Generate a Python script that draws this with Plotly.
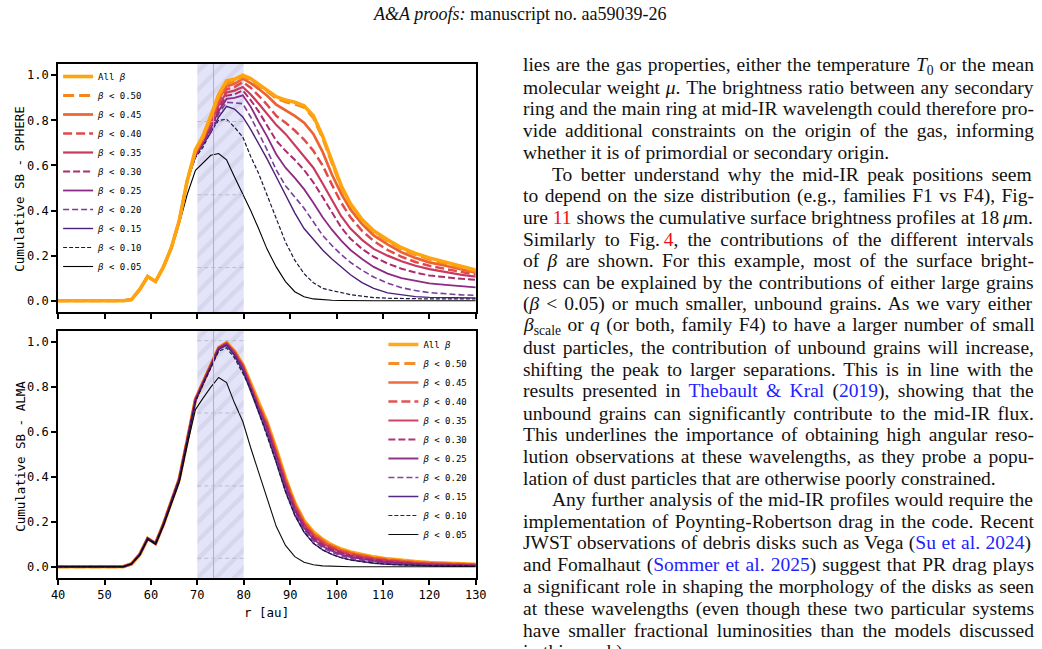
import plotly.graph_objects as go

FIG_W, FIG_H = 1042, 649

# ---------------- data ----------------
r_au = [40, 45, 50, 54.0, 55.8, 57.6, 59.3, 61.0, 62.7, 64.4, 66.1, 67.8,
        69.6, 71.2, 72.9, 74.6, 76.3, 78.0, 79.8, 81.5, 83.2,
        85.0, 87.0, 89.0, 91.0, 93.0, 95.0, 97.0, 99.0, 101.0, 103.0,
        105.5, 108.0, 111.0, 114.0, 117.0, 120.0, 123.5, 127.0, 130.0]

beta_labels = ["All <i>β</i>", "<i>β</i> &lt; 0.50", "<i>β</i> &lt; 0.45", "<i>β</i> &lt; 0.40",
               "<i>β</i> &lt; 0.35", "<i>β</i> &lt; 0.30", "<i>β</i> &lt; 0.25", "<i>β</i> &lt; 0.20",
               "<i>β</i> &lt; 0.15", "<i>β</i> &lt; 0.10", "<i>β</i> &lt; 0.05"]

# SPHERE (top panel)
sphere_all = [0, 0, 0, 0, 0.005, 0.05, 0.107, 0.085, 0.15, 0.235, 0.355, 0.53,
              0.67, 0.73, 0.82, 0.915, 0.975, 0.982, 1.0, 0.985, 0.96,
              0.935, 0.905, 0.89, 0.88, 0.865, 0.82, 0.73, 0.62, 0.51, 0.43,
              0.36, 0.31, 0.27, 0.235, 0.21, 0.19, 0.17, 0.15, 0.136]
sphere_050 = [0, 0, 0, 0, 0.005, 0.05, 0.107, 0.085, 0.15, 0.235, 0.355, 0.53,
              0.665, 0.725, 0.815, 0.905, 0.965, 0.975, 0.993, 0.978, 0.955,
              0.93, 0.898, 0.882, 0.872, 0.858, 0.812, 0.722, 0.612, 0.503, 0.424,
              0.355, 0.305, 0.265, 0.23, 0.205, 0.185, 0.164, 0.145, 0.130]
sphere_045 = [0, 0, 0, 0, 0.005, 0.05, 0.107, 0.085, 0.15, 0.235, 0.355, 0.53,
              0.66, 0.72, 0.805, 0.895, 0.952, 0.962, 0.985, 0.965, 0.94,
              0.91, 0.87, 0.845, 0.82, 0.79, 0.74, 0.66, 0.56, 0.475, 0.405,
              0.34, 0.29, 0.25, 0.215, 0.19, 0.17, 0.155, 0.138, 0.124]
sphere_040 = [0, 0, 0, 0, 0.005, 0.05, 0.107, 0.085, 0.15, 0.235, 0.355, 0.53,
              0.655, 0.715, 0.795, 0.88, 0.938, 0.948, 0.97, 0.945, 0.91,
              0.87, 0.82, 0.79, 0.755, 0.715, 0.665, 0.6, 0.515, 0.435, 0.37,
              0.31, 0.265, 0.225, 0.195, 0.172, 0.155, 0.14, 0.127, 0.116]
sphere_035 = [0, 0, 0, 0, 0.005, 0.05, 0.107, 0.085, 0.15, 0.235, 0.355, 0.53,
              0.65, 0.71, 0.785, 0.868, 0.924, 0.932, 0.948, 0.915, 0.875,
              0.83, 0.78, 0.74, 0.69, 0.645, 0.59, 0.52, 0.445, 0.375, 0.32,
              0.27, 0.23, 0.2, 0.175, 0.155, 0.14, 0.127, 0.115, 0.107]
sphere_030 = [0, 0, 0, 0, 0.005, 0.05, 0.107, 0.085, 0.15, 0.235, 0.355, 0.53,
              0.648, 0.705, 0.775, 0.855, 0.91, 0.915, 0.933, 0.89, 0.84,
              0.78, 0.71, 0.665, 0.625, 0.58, 0.525, 0.46, 0.39, 0.325, 0.275,
              0.23, 0.195, 0.165, 0.142, 0.125, 0.112, 0.103, 0.097, 0.093]
sphere_025 = [0, 0, 0, 0, 0.005, 0.05, 0.107, 0.085, 0.15, 0.235, 0.355, 0.53,
              0.645, 0.70, 0.765, 0.842, 0.895, 0.9, 0.911, 0.86, 0.795,
              0.73, 0.65, 0.59, 0.545, 0.495, 0.435, 0.37, 0.315, 0.267, 0.225,
              0.185, 0.15, 0.12, 0.1, 0.087, 0.077, 0.07, 0.064, 0.059]
sphere_020 = [0, 0, 0, 0, 0.005, 0.05, 0.107, 0.085, 0.15, 0.235, 0.355, 0.53,
              0.642, 0.695, 0.755, 0.83, 0.88, 0.878, 0.874, 0.815, 0.745,
              0.67, 0.58, 0.51, 0.46, 0.41, 0.35, 0.29, 0.245, 0.205, 0.17,
              0.135, 0.105, 0.078, 0.058, 0.045, 0.036, 0.03, 0.026, 0.024]
sphere_015 = [0, 0, 0, 0, 0.005, 0.05, 0.107, 0.085, 0.15, 0.235, 0.355, 0.53,
              0.64, 0.69, 0.745, 0.815, 0.862, 0.85, 0.815, 0.76, 0.70,
              0.63, 0.55, 0.47, 0.39, 0.32, 0.27, 0.225, 0.185, 0.148, 0.115,
              0.08, 0.055, 0.035, 0.025, 0.018, 0.015, 0.013, 0.012, 0.012]
sphere_010 = [0, 0, 0, 0, 0.005, 0.05, 0.107, 0.085, 0.15, 0.235, 0.355, 0.53,
              0.635, 0.68, 0.75, 0.80, 0.805, 0.77, 0.726, 0.64, 0.565,
              0.47, 0.36, 0.26, 0.18, 0.12, 0.08, 0.055, 0.045, 0.035, 0.027,
              0.02, 0.014, 0.011, 0.009, 0.008, 0.008, 0.008, 0.008, 0.008]
sphere_005 = [0, 0, 0, 0, 0.005, 0.05, 0.105, 0.083, 0.145, 0.225, 0.34, 0.47,
              0.578, 0.61, 0.645, 0.653, 0.625, 0.55, 0.474, 0.40, 0.32,
              0.23, 0.15, 0.085, 0.04, 0.018, 0.008, 0.004, 0.002, 0.001, 0,
              0, 0, 0, 0, 0, 0, 0, 0, 0]

# ALMA (bottom panel)
alma_all = [0, 0, 0, 0, 0.013, 0.055, 0.126, 0.104, 0.19, 0.29, 0.39, 0.56,
            0.745, 0.82, 0.9, 0.975, 0.998, 0.96, 0.9, 0.815, 0.725,
            0.645, 0.525, 0.395, 0.285, 0.205, 0.155, 0.122, 0.097, 0.079, 0.066,
            0.054, 0.044, 0.035, 0.028, 0.023, 0.019, 0.016, 0.013, 0.011]
alma_050 = [0, 0, 0, 0, 0.013, 0.055, 0.126, 0.104, 0.19, 0.29, 0.39, 0.56,
            0.745, 0.82, 0.9, 0.975, 0.997, 0.958, 0.898, 0.812, 0.722,
            0.641, 0.52, 0.39, 0.28, 0.2, 0.15, 0.118, 0.094, 0.076, 0.063,
            0.051, 0.041, 0.033, 0.026, 0.021, 0.017, 0.014, 0.012, 0.01]
alma_045 = [0, 0, 0, 0, 0.013, 0.055, 0.126, 0.104, 0.19, 0.29, 0.39, 0.56,
            0.745, 0.82, 0.9, 0.975, 0.996, 0.957, 0.896, 0.81, 0.719,
            0.637, 0.516, 0.385, 0.276, 0.196, 0.146, 0.114, 0.09, 0.073, 0.06,
            0.049, 0.039, 0.031, 0.024, 0.019, 0.016, 0.013, 0.011, 0.009]
alma_040 = [0, 0, 0, 0, 0.013, 0.055, 0.126, 0.104, 0.19, 0.29, 0.39, 0.56,
            0.744, 0.819, 0.899, 0.974, 0.995, 0.955, 0.894, 0.807, 0.715,
            0.632, 0.51, 0.38, 0.271, 0.191, 0.141, 0.109, 0.086, 0.069, 0.056,
            0.046, 0.036, 0.028, 0.022, 0.017, 0.014, 0.012, 0.01, 0.008]
alma_035 = [0, 0, 0, 0, 0.013, 0.055, 0.126, 0.104, 0.19, 0.29, 0.39, 0.56,
            0.744, 0.819, 0.899, 0.974, 0.994, 0.953, 0.891, 0.803, 0.71,
            0.626, 0.503, 0.373, 0.265, 0.186, 0.136, 0.104, 0.082, 0.065, 0.052,
            0.042, 0.033, 0.026, 0.02, 0.015, 0.012, 0.01, 0.008, 0.007]
alma_030 = [0, 0, 0, 0, 0.013, 0.055, 0.126, 0.104, 0.19, 0.29, 0.39, 0.56,
            0.743, 0.818, 0.898, 0.973, 0.993, 0.951, 0.888, 0.799, 0.705,
            0.62, 0.496, 0.366, 0.259, 0.18, 0.13, 0.098, 0.077, 0.061, 0.048,
            0.038, 0.03, 0.023, 0.017, 0.013, 0.01, 0.008, 0.007, 0.006]
alma_025 = [0, 0, 0, 0, 0.013, 0.055, 0.126, 0.104, 0.19, 0.29, 0.39, 0.56,
            0.742, 0.817, 0.897, 0.972, 0.991, 0.948, 0.884, 0.794, 0.699,
            0.612, 0.488, 0.358, 0.251, 0.173, 0.123, 0.092, 0.071, 0.055, 0.043,
            0.034, 0.026, 0.019, 0.014, 0.011, 0.008, 0.007, 0.006, 0.005]
alma_020 = [0, 0, 0, 0, 0.013, 0.055, 0.126, 0.104, 0.19, 0.29, 0.39, 0.56,
            0.741, 0.816, 0.896, 0.97, 0.989, 0.945, 0.879, 0.788, 0.691,
            0.603, 0.478, 0.348, 0.242, 0.165, 0.116, 0.085, 0.064, 0.049, 0.038,
            0.029, 0.021, 0.015, 0.011, 0.008, 0.006, 0.005, 0.004, 0.004]
alma_015 = [0, 0, 0, 0, 0.013, 0.055, 0.126, 0.104, 0.19, 0.29, 0.39, 0.56,
            0.74, 0.815, 0.894, 0.968, 0.986, 0.94, 0.873, 0.78, 0.681,
            0.591, 0.465, 0.335, 0.23, 0.154, 0.105, 0.075, 0.055, 0.041, 0.031,
            0.023, 0.016, 0.011, 0.008, 0.006, 0.004, 0.003, 0.003, 0.003]
alma_010 = [0, 0, 0, 0, 0.013, 0.055, 0.126, 0.104, 0.19, 0.29, 0.39, 0.56,
            0.737, 0.81, 0.888, 0.96, 0.975, 0.93, 0.862, 0.79, 0.69,
            0.585, 0.465, 0.335, 0.23, 0.155, 0.105, 0.075, 0.055, 0.04, 0.03,
            0.022, 0.016, 0.011, 0.008, 0.006, 0.005, 0.004, 0.004, 0.003]
alma_005 = [0, 0, 0, 0, 0.012, 0.053, 0.122, 0.1, 0.183, 0.28, 0.375, 0.54,
            0.70, 0.75, 0.80, 0.843, 0.82, 0.73, 0.647, 0.53, 0.42,
            0.3, 0.18, 0.095, 0.045, 0.02, 0.009, 0.004, 0.002, 0.001, 0,
            0, 0, 0, 0, 0, 0, 0, 0, 0]

sphere_series = [sphere_all, sphere_050, sphere_045, sphere_040, sphere_035, sphere_030,
                 sphere_025, sphere_020, sphere_015, sphere_010, sphere_005]
alma_series = [alma_all, alma_050, alma_045, alma_040, alma_035, alma_030,
               alma_025, alma_020, alma_015, alma_010, alma_005]

x_ticks = [40, 50, 60, 70, 80, 90, 100, 110, 120, 130]
y_ticks = [0.0, 0.2, 0.4, 0.6, 0.8, 1.0]
band_r = [70, 80]
ring_r = 73.5
band_dash_top = [0.147, 0.47, 0.795]
band_dash_bottom = [0.038, 0.36, 0.685, 1.007]

# ---------------- styles ----------------
line_colors = ["#ffa40f", "#f5861c", "#ec6331", "#df4a4c", "#ca3a5f", "#ad2b6f",
               "#8c2a84", "#7b3c99", "#4a1f78", "#1d173f", "#000000"]
line_dashes = ["solid", "11px,5px", "solid", "9px,4px", "solid", "7px,3px",
               "solid", "6px,3px", "solid", "4px,2px", "solid"]
line_widths = [3.6, 3.0, 2.7, 2.5, 2.2, 2.0, 1.8, 1.6, 1.4, 1.2, 1.1]

MONO = "DejaVu Sans Mono"
SERIF = "Liberation Serif"
X_RANGE = [40, 130]
Y_RANGE = [-0.05, 1.05]


def px_x(p):
    return p / FIG_W


def px_y(p):
    return 1 - p / FIG_H


fig = go.Figure()

# hatched ring band (as a bar spanning the y range)
for xa, ya in (("x", "y"), ("x2", "y2")):
    fig.add_trace(go.Bar(
        x=[(band_r[0] + band_r[1]) / 2], y=[Y_RANGE[1] - Y_RANGE[0]], base=[Y_RANGE[0]],
        width=[band_r[1] - band_r[0]], xaxis=xa, yaxis=ya, showlegend=False, hoverinfo="skip",
        marker=dict(color="#e3e3f9", line=dict(width=0),
                    pattern=dict(shape="/", fgcolor="#cacadf", bgcolor="#e3e3f9",
                                 size=13, solidity=0.33))))

# top panel: draw from smallest beta to All beta (All beta on top)
for i in reversed(range(len(sphere_series))):
    fig.add_trace(go.Scatter(
        x=r_au, y=sphere_series[i], mode="lines", name=beta_labels[i],
        xaxis="x", yaxis="y", legend="legend",
        line=dict(color=line_colors[i], width=line_widths[i], dash=line_dashes[i])))

# bottom panel
for i in range(len(alma_series)):
    fig.add_trace(go.Scatter(
        x=r_au, y=alma_series[i], mode="lines", name=beta_labels[i],
        xaxis="x2", yaxis="y2", legend="legend2", opacity=0.95,
        line=dict(color=line_colors[i], width=line_widths[i], dash=line_dashes[i])))

# decorative lines inside the band
shapes = []
for xr, yr, ys in (("x", "y", band_dash_top), ("x2", "y2", band_dash_bottom)):
    shapes.append(dict(type="line", xref=xr, yref=yr + " domain", x0=ring_r, x1=ring_r,
                       y0=0, y1=1, line=dict(color="#a9a9ec", width=1)))
    for yv in ys:
        shapes.append(dict(type="line", xref=xr, yref=yr, x0=band_r[0], x1=band_r[1],
                           y0=yv, y1=yv, line=dict(color="#b9b9d2", width=1, dash="4px,3px")))

axis_common = dict(showline=True, linewidth=2, linecolor="black", mirror=True,
                   ticks="outside", ticklen=5, tickwidth=1.5, tickcolor="black",
                   showgrid=False, zeroline=False,
                   tickfont=dict(family=MONO, size=12, color="black"))

x_dom = [px_x(52), px_x(477)]
fig.update_layout(
    width=FIG_W, height=FIG_H,
    margin=dict(l=0, r=0, t=0, b=0),
    paper_bgcolor="white", plot_bgcolor="white",
    showlegend=True, barmode="overlay",
    xaxis=dict(domain=x_dom, anchor="y", range=X_RANGE, tickvals=x_ticks,
               showticklabels=False, **axis_common),
    yaxis=dict(domain=[px_y(312), px_y(64)], anchor="x", range=Y_RANGE,
               tickvals=y_ticks, tickformat=".1f", **axis_common),
    xaxis2=dict(domain=x_dom, anchor="y2", range=X_RANGE, tickvals=x_ticks, **axis_common),
    yaxis2=dict(domain=[px_y(578), px_y(331)], anchor="x2", range=Y_RANGE,
                tickvals=y_ticks, tickformat=".1f", **axis_common),
    legend=dict(x=px_x(52), y=px_y(62), xanchor="left", yanchor="top",
                bgcolor="rgba(0,0,0,0)", traceorder="reversed", itemwidth=30,
                font=dict(family=MONO, size=9, color="black"), tracegroupgap=0),
    legend2=dict(x=px_x(383), y=px_y(330), xanchor="left", yanchor="top",
                 bgcolor="rgba(0,0,0,0)", traceorder="normal", itemwidth=30,
                 font=dict(family=MONO, size=9, color="black"), tracegroupgap=0),
    shapes=shapes,
)

annotations = []
# axis titles
annotations.append(dict(text="Cumulative SB - SPHERE", x=px_x(13), y=px_y(189), xref="paper", yref="paper",
                        xanchor="center", yanchor="middle",
                        textangle=-90, showarrow=False, font=dict(family=MONO, size=12.5, color="black")))
annotations.append(dict(text="Cumulative SB - ALMA", x=px_x(13), y=px_y(456), xref="paper", yref="paper",
                        xanchor="center", yanchor="middle",
                        textangle=-90, showarrow=False, font=dict(family=MONO, size=12.5, color="black")))
annotations.append(dict(text="r [au]", x=px_x(264), y=px_y(612), xref="paper", yref="paper",
                        xanchor="center", yanchor="middle",
                        showarrow=False, font=dict(family=MONO, size=12.5, color="black")))

# page header
annotations.append(dict(text="<i>A&amp;A proofs:</i> manuscript no. aa59039-26", x=px_x(521), y=px_y(14),
                        xref="paper", yref="paper", xanchor="center", yanchor="middle", showarrow=False,
                        font=dict(family=SERIF, size=18, color="#111")))

# ---------------- right column text ----------------
RED = "#f01010"
BLUE = "#2222ff"
TIMES = {' ': 250, '!': 333, '&': 778, "'": 333, '(': 333, ')': 333, ',': 250, '-': 333, '.': 250,
         '/': 278, ':': 278, ';': 278, '<': 564, '?': 444,
         'A': 722, 'B': 667, 'C': 667, 'D': 722, 'E': 611, 'F': 556, 'G': 722, 'H': 722, 'I': 333,
         'J': 389, 'K': 722, 'L': 611, 'M': 889, 'N': 722, 'O': 722, 'P': 556, 'Q': 722, 'R': 667,
         'S': 556, 'T': 611, 'U': 722, 'V': 722, 'W': 944, 'X': 722, 'Y': 722, 'Z': 611,
         'a': 444, 'b': 500, 'c': 444, 'd': 500, 'e': 444, 'f': 333, 'g': 500, 'h': 500, 'i': 278,
         'j': 278, 'k': 500, 'l': 278, 'm': 778, 'n': 500, 'o': 500, 'p': 500, 'q': 500, 'r': 333,
         's': 389, 't': 278, 'u': 500, 'v': 500, 'w': 722, 'x': 500, 'y': 500, 'z': 444,
         'β': 500, 'μ': 500, '\u2009': 200}
for d in "0123456789":
    TIMES[d] = 500
TIMES_IT = {'T': 556, 'q': 500, 'β': 500, 'μ': 520}

text_lines = [
    (False, True, [("lies are the gas properties, either the temperature ", ""), ("T", "i"), ("0", "sub"), (" or the mean", "")]),
    (False, True, [("molecular weight ", ""), ("μ", "i"), (". The brightness ratio between any secondary", "")]),
    (False, True, [("ring and the main ring at mid-IR wavelength could therefore pro-", "")]),
    (False, True, [("vide additional constraints on the origin of the gas, informing", "")]),
    (False, False, [("whether it is of primordial or secondary origin.", "")]),
    (True, True, [("To better understand why the mid-IR peak positions seem", "")]),
    (False, True, [("to depend on the size distribution (e.g., families F1 vs F4), Fig-", "")]),
    (False, True, [("ure ", ""), ("11", "red"), (" shows the cumulative surface brightness profiles at 18\u2009", ""), ("μ", "i"), ("m.", "")]),
    (False, True, [("Similarly to Fig.\u2009", ""), ("4", "red"), (", the contributions of the different intervals", "")]),
    (False, True, [("of ", ""), ("β", "i"), (" are shown. For this example, most of the surface bright-", "")]),
    (False, True, [("ness can be explained by the contributions of either large grains", "")]),
    (False, True, [("(", ""), ("β", "i"), (" < 0.05) or much smaller, unbound grains. As we vary either", "")]),
    (False, True, [("β", "i"), ("scale", "sub"), (" or ", ""), ("q", "i"), (" (or both, family F4) to have a larger number of small", "")]),
    (False, True, [("dust particles, the contribution of unbound grains will increase,", "")]),
    (False, True, [("shifting the peak to larger separations. This is in line with the", "")]),
    (False, True, [("results presented in ", ""), ("Thebault & Kral", "blue"), (" (", ""), ("2019", "blue"), ("), showing that the", "")]),
    (False, True, [("unbound grains can significantly contribute to the mid-IR flux.", "")]),
    (False, True, [("This underlines the importance of obtaining high angular reso-", "")]),
    (False, True, [("lution observations at these wavelengths, as they probe a popu-", "")]),
    (False, False, [("lation of dust particles that are otherwise poorly constrained.", "")]),
    (True, True, [("Any further analysis of the mid-IR profiles would require the", "")]),
    (False, True, [("implementation of Poynting-Robertson drag in the code. Recent", "")]),
    (False, True, [("JWST observations of debris disks such as Vega (", ""), ("Su et al. 2024", "blue"), (")", "")]),
    (False, True, [("and Fomalhaut (", ""), ("Sommer et al. 2025", "blue"), (") suggest that PR drag plays", "")]),
    (False, True, [("a significant role in shaping the morphology of the disks as seen", "")]),
    (False, True, [("at these wavelengths (even though these two particular systems", "")]),
    (False, True, [("have smaller fractional luminosities than the models discussed", "")]),
    (False, False, [("in this work).", "")]),
]

BODY_SIZE = 19.5
COL_LEFT = 524
COL_RIGHT = 1035
INDENT = 30
LINE0_Y = 65.5
LINE_STEP = 21.72


def seg_width(text, style):
    scale = 0.7 if style == "sub" else 1.0
    tot = 0
    for ch in text:
        if style == "i" and ch in TIMES_IT:
            tot += TIMES_IT[ch]
        else:
            tot += TIMES.get(ch, 500)
    return tot * BODY_SIZE * scale / 1000.0


def seg_html(text, style):
    t = text.replace("&", "&amp;").replace("<", "&lt;").replace(">", "&gt;")
    if style == "i":
        return "<i>" + t + "</i>"
    if style == "sub":
        return "<sub>" + t + "</sub>"
    if style == "red":
        return "<span style='color:%s'>%s</span>" % (RED, t)
    if style == "blue":
        return "<span style='color:%s'>%s</span>" % (BLUE, t)
    return t


for k, (indent, justify, segs) in enumerate(text_lines):
    left = COL_LEFT + (INDENT if indent else 0)
    html = "".join(seg_html(t, s) for t, s in segs)
    if justify:
        natural = sum(seg_width(t, s) for t, s in segs)
        n_sp = sum(t.count(" ") for t, s in segs)
        extra = (COL_RIGHT - left - natural) / max(n_sp, 1)
        html = "<span style='word-spacing:%.2fpx'>%s</span>" % (extra, html)
    annotations.append(dict(text=html, x=px_x(left), y=px_y(LINE0_Y + k * LINE_STEP),
                            xref="paper", yref="paper", xanchor="left", yanchor="middle",
                            showarrow=False, borderpad=0,
                            font=dict(family=SERIF, size=BODY_SIZE, color="#111")))

fig.update_layout(annotations=annotations)

fig.write_html("out.html", config={"displayModeBar": False})
